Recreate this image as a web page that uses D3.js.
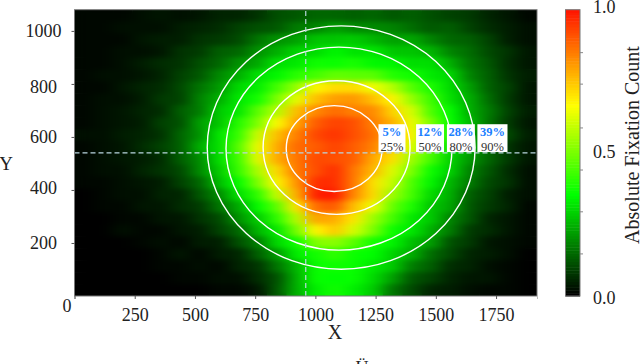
<!DOCTYPE html>
<html>
<head>
<meta charset="utf-8">
<script src="https://cdn.jsdelivr.net/npm/d3@7"></script>
<style>
  html, body { margin: 0; padding: 0; background: #fff; overflow: hidden; }
  text { font-family: "Liberation Serif", serif; fill: #222; }
</style>
</head>
<body>
<div id="chart"></div>
<script>
"use strict"

// tick labels
var xTicks = [0, 250, 500, 750, 1000, 1250, 1500, 1750],
  yTicks = [200, 400, 600, 800, 1000],
  yNudge = [0, -2, 0, 3, 0],
  barTicks = [0.147, 0.294, 0.44, 0.587, 0.74, 0.85],
  barLabels = [0, 0.5, 1];

// colour bar stops
var colorStops = [0, 0.35, 0.66, 1],
  colorValues = ["#000000", "#00ff00", "#ffff00", "#ff1000"];

// rings, screen resolution units
var ringCx = [1107, 1098, 1088, 1078],
  ringCy = [560, 556, 560, 556],
  ringRx = [556, 469, 305, 199],
  ringRy = [459, 383, 252, 162];

// the dashed cross
var crossX = 960,
  crossY = 540;

// ring labels
var labelX = [1735, 1604, 1476, 1318],
  labelTop = ["39%", "28%", "12%", "5%"],
  labelBottom = ["90%", "80%", "50%", "25%"],
  labelWidth = [125, 116, 116, 112];

// fixation count in hundredths, 80x45 cells, top row first
var heatRows = [
  [1,1,1,2,3,2,3,5,5,7,11,12,14,14,13,14,12,13,11,9,8,5,3,1],
  [1,1,2,2,2,4,5,6,9,11,12,17,18,22,19,19,18,15,12,13,9,6,4,2],
  [1,1,1,3,4,4,7,8,10,16,20,22,27,27,28,25,22,23,18,14,13,9,4,2],
  [1,1,2,2,3,7,8,13,14,20,24,29,30,34,31,32,27,27,25,18,15,10,7,3],
  [1,1,2,4,6,7,11,14,20,23,31,32,37,36,38,34,34,30,31,24,16,12,6,3],
  [1,2,2,3,5,9,12,19,24,31,34,40,43,47,46,46,39,37,32,30,18,13,7,4],
  [1,1,3,5,6,10,16,21,30,33,43,53,67,71,71,64,57,45,38,30,22,13,9,3],
  [1,2,2,4,8,9,18,24,32,37,50,63,75,80,81,75,67,53,42,31,24,15,8,3],
  [1,2,3,5,6,13,17,28,32,46,57,75,83,87,84,83,72,61,44,35,24,17,9,4],
  [1,2,3,4,9,11,22,27,39,50,66,79,89,93,91,84,77,64,50,35,26,16,8,3],
  [2,2,4,5,7,14,20,32,41,60,75,84,92,95,91,86,77,67,49,37,23,15,10,4],
  [1,2,3,6,9,13,24,31,45,64,78,87,89,93,89,84,73,62,47,32,25,14,7,3],
  [1,2,3,4,6,13,19,31,42,63,78,85,92,91,89,78,70,54,43,29,21,14,8,3],
  [1,2,2,5,7,10,19,28,41,56,71,85,91,96,85,76,62,50,36,29,18,12,6,2],
  [1,1,2,3,4,9,14,26,35,50,67,81,96,96,85,70,59,44,34,25,17,10,7,2],
  [0,1,2,2,5,5,12,19,31,40,59,77,98,99,83,71,54,43,30,24,13,9,4,2],
  [0,1,1,3,3,6,8,16,23,35,46,69,87,90,75,64,47,38,27,23,12,8,5,1],
  [0,0,1,1,3,3,7,10,20,28,40,57,79,78,69,54,43,32,28,18,12,5,3,1],
  [0,0,2,1,1,3,4,9,14,25,32,49,67,74,61,50,36,32,24,17,8,6,3,1],
  [0,0,0,1,2,1,4,4,11,17,30,36,51,52,46,37,34,26,22,11,8,3,2,1],
  [0,0,0,0,1,3,1,4,5,13,21,33,37,41,36,35,29,24,15,10,5,4,2,0],
  [0,0,0,0,1,1,2,1,5,7,16,25,36,37,36,32,28,17,13,6,5,2,1,0],
  [0,0,0,0,0,1,1,2,2,6,11,24,36,35,36,30,22,12,9,5,3,3,1,0],
  [0,0,0,0,0,0,0,1,1,3,12,24,33,37,33,28,16,10,5,4,2,1,1,0]
];

var cellW = 80,
  cellH = 45;

var svg = d3.select("#chart").append("svg")
  .attr("width", 640)
  .attr("height", 364)
  .style("display", "block");

var x = d3.scaleLinear().domain([0, 1920]).range([74.5, 537]),
  y = d3.scaleLinear().domain([0, 1080]).range([296, 9.7]),
  barY = d3.scaleLinear().domain([0, 1]).range([296, 9.7]),
  barLabelY = d3.scaleLinear().domain([0, 1]).range([298, 7]),
  color = d3.scaleLinear().domain(colorStops).range(colorValues).clamp(true);

var defs = svg.append("defs");
defs.append("clipPath").attr("id", "plotClip")
  .append("rect")
  .attr("x", x(0))
  .attr("y", y(1080))
  .attr("width", x(1920) - x(0))
  .attr("height", y(0) - y(1080));
defs.append("filter").attr("id", "smear")
  .attr("x", "-5%").attr("y", "-5%").attr("width", "110%").attr("height", "110%")
  .attr("color-interpolation-filters", "sRGB")
  .append("feGaussianBlur")
  .attr("stdDeviation", "8 2.5");

var plot = svg.append("g").attr("clip-path", "url(#plotClip)");

// flat copy below so the blur does not fade out at the plot edge
drawCells(plot.append("g"));
drawCells(plot.append("g").attr("filter", "url(#smear)"));

function drawCells(layer){
  var rows = layer.selectAll("g").data(heatRows).enter().append("g");
  rows.selectAll("rect")
    .data(function(d, i){
      return d.map(function(v, j){ return {col: j, row: i, v: v}; });
    })
    .enter().append("rect")
    .attr("x", function(d){ return x(d.col * cellW); })
    .attr("y", function(d){ return y(1080 - d.row * cellH); })
    .attr("width", x(cellW) - x(0) + 0.5)
    .attr("height", y(0) - y(cellH) + 0.5)
    .attr("fill", function(d){ return color(d.v / 100); });
}

// rings
plot.selectAll("ellipse")
  .data(ringCx)
  .enter().append("ellipse")
  .attr("cx", function(d){ return x(d); })
  .attr("cy", function(d, i){ return y(ringCy[i]); })
  .attr("rx", function(d, i){ return x(ringRx[i]) - x(0); })
  .attr("ry", function(d, i){ return y(0) - y(ringRy[i]); })
  .attr("fill", "none")
  .attr("stroke", "#fff")
  .attr("stroke-width", 1.4);

// cross
plot.append("line")
  .attr("x1", x(crossX)).attr("x2", x(crossX))
  .attr("y1", y(0)).attr("y2", y(1080))
  .attr("stroke", "#b9d6e0")
  .attr("stroke-width", 1.2)
  .attr("stroke-dasharray", "5,3");
plot.append("line")
  .attr("x1", x(0)).attr("x2", x(1920))
  .attr("y1", y(crossY)).attr("y2", y(crossY))
  .attr("stroke", "#b9d6e0")
  .attr("stroke-width", 1.2)
  .attr("stroke-dasharray", "5,3");

// ring labels
var labels = svg.append("g").selectAll("g")
  .data(labelX)
  .enter().append("g");
labels.append("rect")
  .attr("x", function(d, i){ return x(d - labelWidth[i] / 2); })
  .attr("y", y(648))
  .attr("width", function(d, i){ return x(labelWidth[i]) - x(0); })
  .attr("height", y(543) - y(648))
  .attr("fill", "#fff");
labels.append("text")
  .attr("x", function(d){ return x(d); })
  .attr("y", 136)
  .attr("text-anchor", "middle")
  .style("font-size", "12.5px")
  .style("font-weight", "bold")
  .style("fill", "#1a80ff")
  .text(function(d, i){ return labelTop[i]; });
labels.append("text")
  .attr("x", function(d){ return x(d); })
  .attr("y", 150.5)
  .attr("text-anchor", "middle")
  .style("font-size", "12.5px")
  .style("fill", "#333")
  .text(function(d, i){ return labelBottom[i]; });

// frame and axes
svg.append("rect")
  .attr("x", x(0))
  .attr("y", y(1080))
  .attr("width", x(1920) - x(0))
  .attr("height", y(0) - y(1080))
  .attr("fill", "none")
  .attr("stroke", "#777");

var xAxis = svg.append("g")
  .attr("transform", "translate(0," + y(0) + ")")
  .call(d3.axisBottom(x).tickValues(xTicks).tickSize(3).tickPadding(9).tickFormat(d3.format("d")));
xAxis.select(".domain").attr("stroke", "#bbb");
xAxis.selectAll("line").attr("stroke", "#555");
xAxis.selectAll("text").style("font-size", "18px")
  .filter(function(d){ return d == 0; })
  .attr("x", -8)
  .attr("dy", "0.21em");

var yAxis = svg.append("g")
  .attr("transform", "translate(" + x(0) + ",0)")
  .call(d3.axisLeft(y).tickValues(yTicks).tickSize(3).tickFormat(d3.format("d")));
yAxis.select(".domain").remove();
yAxis.selectAll("line").attr("stroke", "#555");
yAxis.selectAll("text")
  .style("font-size", "18px")
  .attr("text-anchor", "middle")
  .attr("x", -31)
  .attr("y", function(d, i){ return yNudge[i]; });

svg.append("text")
  .attr("x", 335)
  .attr("y", 339)
  .attr("text-anchor", "middle")
  .style("font-size", "20px")
  .text("X");
svg.append("text")
  .attr("x", 6)
  .attr("y", 170)
  .attr("text-anchor", "middle")
  .style("font-size", "19px")
  .text("Y");

// colour bar
var barStops = d3.range(0, 1, 0.01);
svg.append("g").selectAll("rect")
  .data(barStops)
  .enter().append("rect")
  .attr("x", 565.5)
  .attr("y", function(d){ return barY(d + 0.01); })
  .attr("width", 14.5)
  .attr("height", barY(0) - barY(0.01) + 0.5)
  .attr("fill", function(d){ return color(d); });
svg.append("rect")
  .attr("x", 565.5)
  .attr("y", barY(1))
  .attr("width", 14.5)
  .attr("height", barY(0) - barY(1))
  .attr("fill", "none")
  .attr("stroke", "#777");
svg.append("g").selectAll("line")
  .data(barTicks)
  .enter().append("line")
  .attr("x1", 580).attr("x2", 583)
  .attr("y1", function(d){ return barY(d); })
  .attr("y2", function(d){ return barY(d); })
  .attr("stroke", "#888");
svg.append("g").selectAll("text")
  .data(barLabels)
  .enter().append("text")
  .attr("x", 593)
  .attr("y", function(d){ return barLabelY(d); })
  .attr("dy", "0.32em")
  .style("font-size", "18px")
  .text(d3.format(".1f"));
svg.append("text")
  .attr("transform", "translate(638.5,145) rotate(-90)")
  .attr("text-anchor", "middle")
  .style("font-size", "20px")
  .text("Absolute Fixation Count");

// stray bit of the cropped caption in the source
svg.append("text")
  .attr("x", 362)
  .attr("y", 374)
  .attr("text-anchor", "middle")
  .style("font-size", "18px")
  .text("Ü");
</script>
</body>
</html>
